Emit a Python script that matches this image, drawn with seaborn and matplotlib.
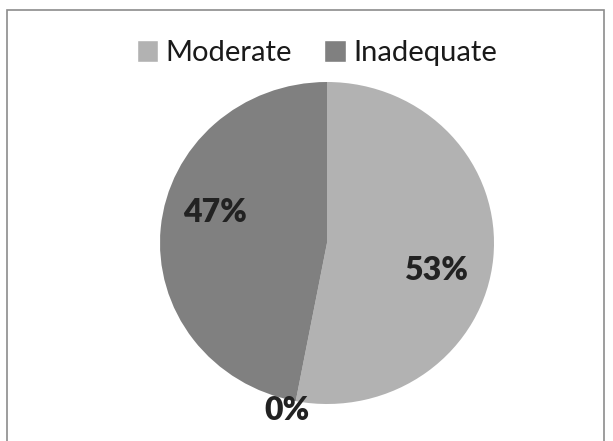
import matplotlib
matplotlib.use("Agg")
import matplotlib.pyplot as plt
import seaborn as sns
from matplotlib.patches import Rectangle, Patch

sns.set_theme(style="white")
plt.rcParams['font.family'] = ['Lato', 'DejaVu Sans']

categories = ["Moderate", "", "Inadequate"]
values = [53, 0, 47]
pct_labels = ["53%", "0%", "47%"]
colors = ["#b2b2b2", "#9a9a9a", "#808080"]

fig = plt.figure(figsize=(6.13, 4.41), dpi=100)
fig.patch.set_facecolor("white")
fig.patches.append(Rectangle((7/613, -0.05), (604-7)/613, 1 - 10/441 + 0.05,
                             transform=fig.transFigure, fill=False,
                             edgecolor="#8c8c8c", linewidth=1.2))

ax = fig.add_axes([160/613, (441-404)/441, 334/613, 322/441])
wedges, _ = ax.pie(values, colors=colors, startangle=90, counterclock=False,
                   wedgeprops=dict(linewidth=0))
ax.set_aspect('auto')
ax.set_xlim(-1, 1)
ax.set_ylim(-1, 1)

label_pos = [(0.65, -0.17), (-0.24, -1.04), (-0.67, 0.19)]
for (x, y), t in zip(label_pos, pct_labels):
    ax.text(x, y, t, ha="center", va="center", fontsize=23, fontweight="heavy",
            color="#222222", clip_on=False)

handles = [Patch(facecolor=colors[0], label=categories[0]),
           Patch(facecolor=colors[2], label=categories[2])]
fig.legend(handles=handles, loc="center", bbox_to_anchor=(317/613, 1 - 53/441),
           ncol=2, frameon=False, fontsize=21, handlelength=0.75, handleheight=0.75,
           handletextpad=0.25, columnspacing=1.1, labelcolor="#1a1a1a")

fig.savefig("out.png", dpi=100, facecolor="white")
